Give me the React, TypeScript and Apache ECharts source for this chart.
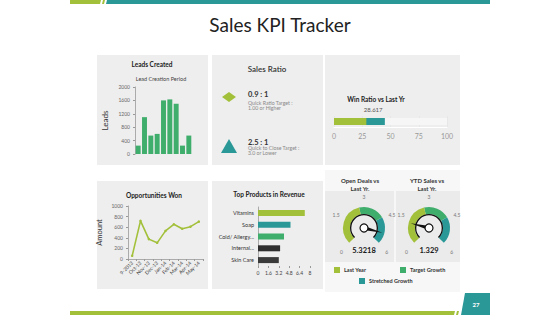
import React, { useEffect, useRef } from "react";
import * as echarts from "echarts";

// ---- data ----
const leadPeriods = ["P1", "P2", "P3", "P4", "P5", "P6", "P7", "P8", "P9"];
const leadValues = [250, 1100, 550, 600, 1600, 1630, 1500, 250, 550];

const oppMonths = ["9-2013", "Oct-13", "Nov-13", "Dec-13", "Jan-14", "Feb-14", "Mar-14", "Apr-14", "May-14"];
const oppValues = [60, 720, 375, 305, 530, 655, 570, 610, 705];

const products = ["Vitamins", "Soap", "Cold/ Allergy...", "Internal...", "Skin Care"];
const productRevenue = [7.2, 5.0, 4.0, 3.4, 3.2];

const winRatio = [28.617];
const winRatioLastYr = [45];

const openDeals = 5.3218;
const ytdSales = 1.329;

const gaugeLegend = ["Last Year", "Target Growth", "Stretched Growth"];

// ---- palette ----
const LIME = "#a3c03b";
const GREEN = "#3fad6b";
const TEAL = "#2b9898";
const DARK = "#2e2e2e";
const productColors = [LIME, TEAL, GREEN, DARK, "#3a3a3a"];
const FONT = "Lato, 'DejaVu Sans', sans-serif";
const PANEL = "#eeeeee";

function txt(x: number, y: number, text: string, size: number, extra: any = {}) {
  return {
    type: "text",
    x,
    y,
    z: 10,
    style: {
      text,
      fontSize: size,
      fontFamily: FONT,
      fill: extra.fill || "#222",
      fontWeight: extra.weight || "normal",
      align: extra.align || "center",
      verticalAlign: "middle",
    },
  };
}

function rect(x: number, y: number, w: number, h: number, fill: string) {
  return { type: "rect", z: -1, shape: { x, y, width: w, height: h }, style: { fill } };
}

function poly(points: number[][], fill: string) {
  return { type: "polygon", z: -1, shape: { points }, style: { fill } };
}

function gaugePair(cx: number, value: number) {
  const center = [cx, 228];
  return [
    {
      type: "gauge",
      center,
      radius: 21,
      startAngle: 225,
      endAngle: -45,
      min: 0,
      max: 6,
      splitNumber: 4,
      axisLine: { lineStyle: { width: 7, color: [[0.45, LIME], [0.72, GREEN], [1, TEAL]] } },
      axisTick: { show: false },
      splitLine: { show: false, length: 0, distance: 0 },
      axisLabel: { distance: -13, fontSize: 5, color: "#777", fontFamily: FONT },
      pointer: { show: false },
      anchor: { show: false },
      title: { show: false },
      detail: { show: false },
      data: [{ value }],
    },
    {
      type: "gauge",
      center,
      radius: 14,
      startAngle: 225,
      endAngle: -45,
      min: 0,
      max: 6,
      axisLine: { lineStyle: { width: 1.3, color: [[1, "#111"]] } },
      axisTick: { show: false },
      splitLine: { show: false },
      axisLabel: { show: false },
      pointer: { show: true, length: 19, width: 2, itemStyle: { color: "#111" } },
      anchor: {
        show: true,
        showAbove: true,
        size: 8,
        itemStyle: { color: "#fff", borderColor: "#111", borderWidth: 1.2 },
      },
      title: { show: false },
      detail: {
        show: true,
        offsetCenter: [0, 22],
        fontSize: 7.5,
        fontWeight: "bold",
        fontFamily: FONT,
        color: "#1a1a1a",
        formatter: (v: number) => String(v),
      },
      data: [{ value }],
    },
  ];
}

export default function App() {
  const ref = useRef<HTMLDivElement>(null);

  useEffect(() => {
    if (!ref.current) return;
    const chart = echarts.init(ref.current, undefined, { renderer: "svg" });

    const plain = (v: number) => String(v);
    const axisLabelSmall = { fontSize: 5, color: "#666", fontFamily: FONT };
    const axisLineGrey = { show: true, lineStyle: { color: "#999", width: 0.8 } };

    const graphic: any[] = [
      // header strip
      poly([[70, 0], [101, 0], [100, 4], [70, 4]], LIME),
      poly([[103, 0], [105, 0], [104, 4], [102, 4]], LIME),
      poly([[107, 0], [490, 0], [490, 4], [106, 4]], TEAL),
      // footer strip + page tag
      poly([[70, 311], [455, 311], [454, 315], [70, 315]], LIME),
      poly([[457, 311], [459, 311], [458, 315], [456, 315]], LIME),
      poly([[465, 293], [490, 293], [490, 315], [461, 315]], TEAL),
      txt(476, 304, "27", 6, { fill: "#fff", weight: "bold" }),
      // title
      txt(280, 24, "Sales KPI Tracker", 19, { fill: "#222" }),
      // panels
      rect(97, 55, 111, 110, PANEL),
      rect(212, 55, 111, 110, PANEL),
      rect(325, 55, 135, 110, PANEL),
      rect(97, 181, 111, 108, PANEL),
      rect(212, 181, 111, 108, PANEL),
      rect(325, 170, 135, 122, "#f7f7f7"),
      rect(325, 191, 69, 71, "#ebebeb"),
      rect(396, 191, 64, 71, "#ebebeb"),
      // panel headings
      txt(152, 64, "Leads Created", 6.5, { weight: "bold" }),
      txt(161, 79, "Lead Creation Period", 5.5, { fill: "#444" }),
      txt(267, 69, "Sales Ratio", 8, { fill: "#333", weight: 600 }),
      txt(376, 99, "Win Ratio vs Last Yr", 6.5, { weight: "bold" }),
      txt(154, 195, "Opportunities Won", 6.5, { weight: "bold" }),
      txt(269, 194, "Top Products in Revenue", 6.5, { weight: "bold" }),
      txt(360, 180, "Open Deals vs", 6, { weight: "bold", fill: "#333" }),
      txt(360, 188, "Last Yr.", 6, { weight: "bold", fill: "#333" }),
      txt(427, 180, "YTD Sales vs", 6, { weight: "bold", fill: "#333" }),
      txt(427, 188, "Last Yr.", 6, { weight: "bold", fill: "#333" }),
      // sales ratio cards
      poly([[222, 97], [229, 92], [236, 97], [229, 102]], LIME),
      poly([[221, 153], [229, 139], [237, 153]], TEAL),
      txt(248, 94, "0.9 : 1", 7.5, { weight: "bold", align: "left", fill: "#333" }),
      txt(248, 102.5, "Quick Ratio Target :", 5.2, { align: "left", fill: "#888" }),
      txt(248, 107.5, "1.00 or Higher", 5.2, { align: "left", fill: "#888" }),
      txt(248, 142, "2.5 : 1", 7.5, { weight: "bold", align: "left", fill: "#333" }),
      txt(248, 148, "Quick to Close Target :", 5.2, { align: "left", fill: "#888" }),
      txt(248, 153, "3.0 or Lower", 5.2, { align: "left", fill: "#888" }),
      // gauge legend
      rect(334, 267, 6, 6, LIME),
      txt(344, 270, gaugeLegend[0], 5.5, { align: "left", weight: "bold", fill: "#333" }),
      rect(400, 267, 6, 6, GREEN),
      txt(410, 270, gaugeLegend[1], 5.5, { align: "left", weight: "bold", fill: "#333" }),
      rect(359, 278, 6, 6, TEAL),
      txt(369, 281, gaugeLegend[2], 5.5, { align: "left", weight: "bold", fill: "#333" }),
    ];

    chart.setOption({
      animation: false,
      textStyle: { fontFamily: FONT },
      graphic,
      grid: [
        { left: 135, top: 87, width: 57, height: 67 },
        { left: 128, top: 206, width: 75, height: 53 },
        { left: 258, top: 207, width: 52, height: 59 },
        { left: 334, top: 116, width: 113, height: 11 },
      ],
      xAxis: [
        {
          type: "category",
          gridIndex: 0,
          data: leadPeriods,
          axisLabel: { show: false },
          axisTick: { show: false },
          axisLine: { show: false },
        },
        {
          type: "category",
          gridIndex: 1,
          data: oppMonths,
          axisLabel: { ...axisLabelSmall, rotate: 45, interval: 0, margin: 3, color: "#444" },
          axisTick: { show: true, length: 2, lineStyle: { color: "#999" } },
          axisLine: axisLineGrey,
        },
        {
          type: "value",
          gridIndex: 2,
          min: 0,
          max: 8,
          interval: 1.6,
          axisLabel: {
            ...axisLabelSmall,
            color: "#444",
            margin: 4,
            formatter: (v: number) => String(Math.round(v * 10) / 10),
          },
          axisTick: { show: true, length: 2, lineStyle: { color: "#999" } },
          axisLine: { show: false },
          splitLine: { show: false },
        },
        {
          type: "value",
          gridIndex: 3,
          min: 0,
          max: 100,
          interval: 25,
          axisLabel: { fontSize: 7, color: "#999", fontFamily: FONT, margin: 5 },
          axisTick: { show: false },
          axisLine: { show: true, lineStyle: { color: "#fff", width: 1 } },
          splitLine: { show: true, lineStyle: { color: "#e4e4e4", width: 0.8 } },
        },
      ],
      yAxis: [
        {
          type: "value",
          gridIndex: 0,
          min: 0,
          max: 2000,
          interval: 400,
          name: "Leads",
          nameLocation: "middle",
          nameGap: 26,
          nameTextStyle: { fontSize: 8, color: "#333", fontFamily: FONT },
          axisLabel: { ...axisLabelSmall, margin: 5, formatter: plain },
          axisTick: { show: true, length: 2, lineStyle: { color: "#999" } },
          axisLine: axisLineGrey,
          splitLine: { show: false },
        },
        {
          type: "value",
          gridIndex: 1,
          min: 0,
          max: 1000,
          interval: 200,
          name: "Amount",
          nameLocation: "middle",
          nameGap: 25,
          nameTextStyle: { fontSize: 7.5, color: "#333", fontFamily: FONT },
          axisLabel: { ...axisLabelSmall, margin: 5, formatter: plain },
          axisTick: { show: true, length: 2, lineStyle: { color: "#999" } },
          axisLine: axisLineGrey,
          splitLine: { show: false },
        },
        {
          type: "category",
          gridIndex: 2,
          data: products,
          inverse: true,
          axisLabel: { fontSize: 5.5, color: "#333", fontFamily: FONT, margin: 4 },
          axisTick: { show: false },
          axisLine: axisLineGrey,
        },
        {
          type: "category",
          gridIndex: 3,
          data: ["Win Ratio"],
          show: false,
        },
      ],
      series: [
        {
          type: "bar",
          xAxisIndex: 0,
          yAxisIndex: 0,
          data: leadValues,
          barCategoryGap: "22%",
          itemStyle: { color: GREEN },
        },
        {
          type: "line",
          xAxisIndex: 1,
          yAxisIndex: 1,
          data: oppValues,
          symbol: "circle",
          symbolSize: 2.5,
          lineStyle: { color: LIME, width: 1.6 },
          itemStyle: { color: LIME },
        },
        {
          type: "bar",
          xAxisIndex: 2,
          yAxisIndex: 2,
          barWidth: 6,
          data: productRevenue.map((v, i) => ({ value: v, itemStyle: { color: productColors[i] } })),
        },
        {
          type: "bar",
          xAxisIndex: 3,
          yAxisIndex: 3,
          barWidth: 7,
          data: winRatioLastYr,
          itemStyle: { color: TEAL },
          showBackground: true,
          backgroundStyle: { color: "#f6f6f6" },
        },
        {
          type: "bar",
          xAxisIndex: 3,
          yAxisIndex: 3,
          barWidth: 7,
          barGap: "-100%",
          data: winRatio,
          itemStyle: { color: LIME },
          label: {
            show: true,
            position: "top",
            offset: [23, -1],
            fontSize: 6,
            color: "#555",
            fontFamily: FONT,
            formatter: (p: any) => String(p.value),
          },
        },
        ...gaugePair(364, openDeals),
        ...gaugePair(429, ytdSales),
      ],
    });

    return () => chart.dispose();
  }, []);

  return (
    <div
      ref={ref}
      style={{ position: "absolute", left: 0, top: 0, width: 560, height: 315, background: "#fff" }}
    />
  );
}
